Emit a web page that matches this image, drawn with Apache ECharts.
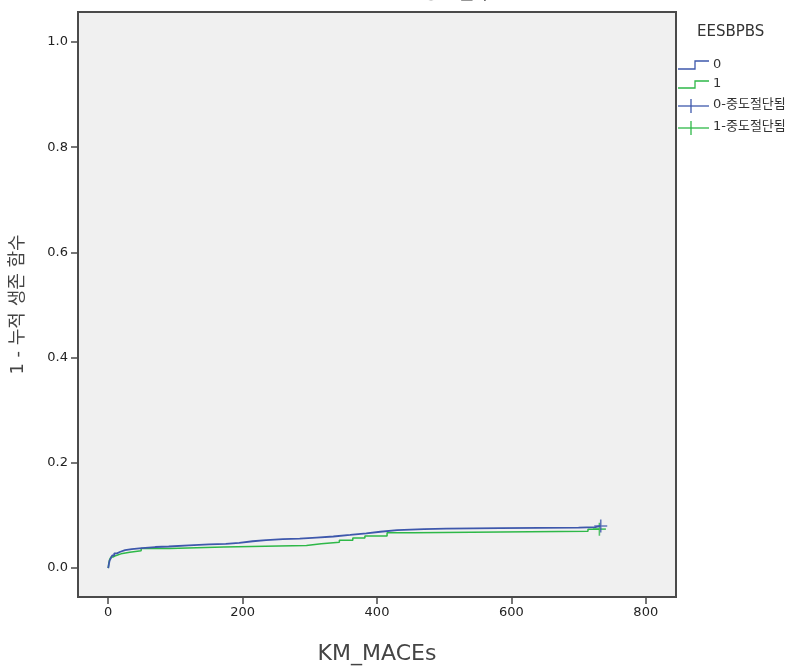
<!DOCTYPE html>
<html>
<head>
<meta charset="utf-8">
<script src="https://cdn.jsdelivr.net/npm/echarts@6.0.0/dist/echarts.min.js"></script>
<style>
  html, body { margin: 0; padding: 0; background: #ffffff; }
  #root { width: 804px; height: 670px; }
</style>
</head>
<body>
<div id="root"></div>
<script>
// Kaplan-Meier style "1 - cumulative survival" curves
const groupNames = ["0", "1"];
const censorNames = ["0-중도절단됨", "1-중도절단됨"];

const timeBlue = [0, 1, 2, 4, 6, 9, 13, 18, 25, 35, 50, 70, 90, 120, 150, 175, 195, 215, 235, 260, 285, 310, 335, 360, 384, 405, 430, 470, 503, 583, 700, 725, 733];
const valueBlue = [0, 0.008, 0.014, 0.019, 0.024, 0.028, 0.031, 0.034, 0.036, 0.038, 0.040, 0.041, 0.043, 0.045, 0.046, 0.048, 0.051, 0.053, 0.055, 0.056, 0.058, 0.060, 0.063, 0.066, 0.069, 0.072, 0.074, 0.075, 0.076, 0.077, 0.078, 0.080, 0.080];

const timeGreen = [0, 1, 2, 4, 7, 12, 19, 32, 49, 91, 172, 295, 317, 344, 364, 382, 415, 454, 714, 731];
const valueGreen = [0, 0.010, 0.016, 0.021, 0.024, 0.027, 0.030, 0.033, 0.037, 0.040, 0.043, 0.046, 0.049, 0.053, 0.057, 0.061, 0.067, 0.070, 0.074, 0.074];

// censored observations (only the last ones are visible)
const censorBlue = [[733, 0.080]];
const censorGreen = [[731, 0.074]];

const xTicks = [0, 200, 400, 600, 800];
const yTicks = [0, 0.2, 0.4, 0.6, 0.8, 1.0];

const BLUE = "#3E58AC";
const GREEN = "#2EB848";
const FONT = "DejaVu Sans, Noto Sans CJK KR, sans-serif";
const PLUS = "path://M4.4,0h1.2v10h-1.2z M0,4.4h10v1.2h-10z";

const zip = (xs, ys) => xs.map((x, i) => [x, ys[i]]);

const chart = echarts.init(document.getElementById("root"));

// hand drawn legend, SPSS style
function legendItems() {
  const items = [];
  items.push({ type: "text", left: 697, top: 25,
    style: { text: "EESBPBS", font: "15px " + FONT, fill: "#333" } });
  const steps = [[69, 61, BLUE], [88, 81, GREEN]];
  steps.forEach((s, i) => {
    items.push({ type: "polyline", shape: { points: [[678, s[0]], [695, s[0]], [695, s[1]], [709, s[1]]] },
      style: { stroke: s[2], lineWidth: 1.3, fill: null } });
    items.push({ type: "text", left: 713, top: (s[0] + s[1]) / 2 - 7,
      style: { text: groupNames[i], font: "13px " + FONT, fill: "#333" } });
  });
  const pluses = [[106, BLUE], [128, GREEN]];
  pluses.forEach((p, i) => {
    items.push({ type: "line", shape: { x1: 678, y1: p[0], x2: 709, y2: p[0] },
      style: { stroke: p[1], lineWidth: 1.3 } });
    items.push({ type: "line", shape: { x1: 691, y1: p[0] - 7, x2: 691, y2: p[0] + 7 },
      style: { stroke: p[1], lineWidth: 1.3 } });
    items.push({ type: "text", left: 713, top: p[0] - 8,
      style: { text: censorNames[i], font: "13px " + FONT, fill: "#333" } });
  });
  return items;
}

const option = {
  backgroundColor: "#ffffff",
  animation: false,
  grid: {
    left: 78, top: 12, right: 128, bottom: 68,
    show: true, backgroundColor: "#f0f0f0", borderColor: "#4a4a4a", borderWidth: 2
  },
  xAxis: {
    type: "value", min: -45, max: 845,
    name: "KM_MACEs", nameLocation: "middle", nameGap: 46,
    nameTextStyle: { fontFamily: FONT, fontSize: 22, color: "#444" },
    axisLine: { show: true, onZero: false, lineStyle: { color: "#4a4a4a", width: 2 } },
    axisTick: { show: true, length: 7, customValues: xTicks, lineStyle: { color: "#4a4a4a", width: 1.5 } },
    axisLabel: { customValues: xTicks, fontFamily: FONT, fontSize: 13, color: "#222", margin: 9 },
    splitLine: { show: false }
  },
  yAxis: {
    type: "value", min: -0.055, max: 1.057,
    name: "1 - 누적 생존 함수", nameLocation: "middle", nameGap: 51, nameRotate: 90,
    nameTextStyle: { fontFamily: FONT, fontSize: 18, color: "#444" },
    axisLine: { show: true, onZero: false, lineStyle: { color: "#4a4a4a", width: 2 } },
    axisTick: { show: true, length: 7, customValues: yTicks, lineStyle: { color: "#4a4a4a", width: 1.5 } },
    axisLabel: { customValues: yTicks, fontFamily: FONT, fontSize: 13, color: "#222", margin: 10,
      formatter: (v) => v.toFixed(1) },
    splitLine: { show: false }
  },
  series: [
    { name: groupNames[1], type: "line", step: "end", data: zip(timeGreen, valueGreen),
      showSymbol: false, lineStyle: { color: GREEN, width: 1.5 }, itemStyle: { color: GREEN } },
    { name: groupNames[0], type: "line", step: "end", data: zip(timeBlue, valueBlue),
      showSymbol: false, lineStyle: { color: BLUE, width: 1.8 }, itemStyle: { color: BLUE } },
    { name: censorNames[1], type: "scatter", data: censorGreen, symbol: PLUS, symbolSize: 13,
      itemStyle: { color: GREEN } },
    { name: censorNames[0], type: "scatter", data: censorBlue, symbol: PLUS, symbolSize: 13,
      itemStyle: { color: BLUE } }
  ],
  graphic: [
    // title is cut off at the top edge of the original image
    { type: "text", left: 388, top: -16,
      style: { text: "1 - 생존함수", font: "20px " + FONT, fill: "#333" } }
  ].concat(legendItems())
};

chart.setOption(option);
</script>
</body>
</html>
